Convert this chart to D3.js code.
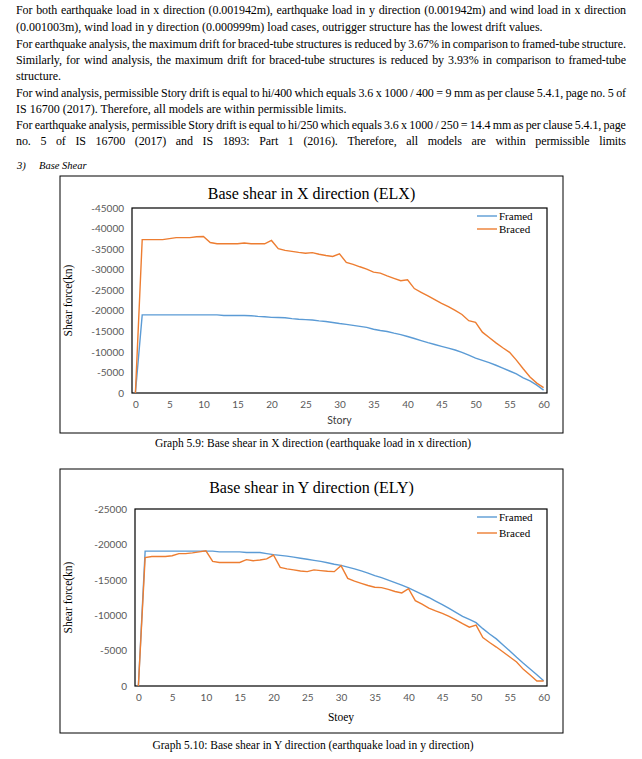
<!DOCTYPE html>
<html>
<head>
<meta charset="utf-8">
<script src="https://cdn.jsdelivr.net/npm/d3@7"></script>
<style>
  body { margin: 0; background: #fff; }
  #page { position: relative; width: 642px; height: 759px; font-family: "Liberation Serif", "Times New Roman", serif; color: #000; }
  .ln { position: absolute; left: 16px; width: 610px; font-size: 12px; line-height: 14px; white-space: nowrap; }
  .ln.just { display: flex; justify-content: space-between; letter-spacing: -0.1px; }
  svg { position: absolute; left: 0; top: 0; }
</style>
</head>
<body>
<div id="page"></div>
<script>
// story numbers (categories)
const stories = d3.range(0, 61);

// ELX base shear (kN), framed-tube and braced-tube
const elxFramed = [0,
  -19000, -19000, -19000, -19000, -19000, -19000, -19000, -19000, -19000, -19000,
  -19000, -19000, -18850, -18850, -18850, -18850, -18800, -18650, -18550, -18400,
  -18350, -18300, -18100, -17950, -17850, -17750, -17550, -17400, -17150, -16900,
  -16700, -16450, -16200, -15950, -15500, -15200, -14950, -14550, -14200, -13750,
  -13250, -12750, -12250, -11800, -11350, -10900, -10450, -9900, -9200, -8500,
  -7950, -7400, -6750, -6050, -5350, -4650, -3700, -2950, -1900, -700];
const elxBraced = [0,
  -37300, -37300, -37300, -37300, -37550, -37800, -37800, -37800, -38000, -38050,
  -36600, -36300, -36300, -36300, -36300, -36500, -36300, -36300, -36300, -37100,
  -35100, -34700, -34450, -34200, -34000, -34150, -33750, -33450, -33200, -33850,
  -31750, -31300, -30700, -30150, -29400, -29150, -28500, -27900, -27300, -27550,
  -25400, -24500, -23600, -22700, -21800, -21000, -20100, -19100, -17600, -17200,
  -14800, -13500, -12200, -11000, -9900, -8000, -5900, -3900, -2400, -1300];

// ELY base shear (kN)
const elyFramed = [0,
  -19050, -19050, -19050, -19050, -19050, -19050, -19050, -19050, -19050, -19050,
  -19050, -18950, -18950, -18950, -18950, -18850, -18850, -18850, -18700, -18550,
  -18450, -18350, -18200, -18050, -17900, -17750, -17600, -17400, -17200, -17030,
  -16800, -16550, -16250, -15950, -15600, -15300, -14950, -14600, -14250, -13850,
  -13400, -12950, -12500, -12000, -11500, -10950, -10400, -9850, -9400, -8950,
  -8100, -7350, -6650, -5800, -4950, -4050, -3200, -2400, -1600, -750];
const elyBraced = [0,
  -18150, -18300, -18300, -18300, -18400, -18700, -18700, -18800, -18950, -19100,
  -17600, -17450, -17450, -17450, -17450, -17850, -17700, -17800, -17950, -18500,
  -16750, -16550, -16400, -16250, -16150, -16400, -16300, -16200, -16150, -17000,
  -15200, -14800, -14500, -14200, -13950, -13900, -13650, -13350, -13150, -13750,
  -12050, -11550, -11000, -10600, -10250, -9850, -9350, -8800, -8300, -8600,
  -6850, -6150, -5500, -4800, -4100, -3400, -2350, -1550, -700, -700];

const elxTicks = [0, -5000, -10000, -15000, -20000, -25000, -30000, -35000, -40000, -45000];
const elyTicks = [0, -5000, -10000, -15000, -20000, -25000];
const xTicks = [0, 5, 10, 15, 20, 25, 30, 35, 40, 45, 50, 55, 60];
const seriesNames = ["Framed", "Braced"];
const seriesColors = ["#5b9bd5", "#ed7d31"];

// body text lines of the page
const textLines = [
  ["For both earthquake load in x direction (0.001942m), earthquake load in y direction (0.001942m) and wind load in x direction", true, 10],
  ["(0.001003m), wind load in y direction (0.000999m) load cases, outrigger structure has the lowest drift values.", false, 27],
  ["For earthquake analysis, the maximum drift for braced-tube structures is reduced by 3.67% in comparison to framed-tube structure.", true, 44],
  ["Similarly, for wind analysis, the maximum drift for braced-tube structures is reduced by 3.93% in comparison to framed-tube", true, 60],
  ["structure.", false, 76],
  ["For wind analysis, permissible Story drift is equal to hi/400 which equals 3.6 x 1000 / 400 = 9 mm as per clause 5.4.1, page no. 5 of", true, 93],
  ["IS 16700 (2017). Therefore, all models are within permissible limits.", false, 109],
  ["For earthquake analysis, permissible Story drift is equal to hi/250 which equals 3.6 x 1000 / 250 = 14.4 mm as per clause 5.4.1, page", true, 125],
  ["no. 5 of IS 16700 (2017) and IS 1893: Part 1 (2016). Therefore, all models are within permissible limits", true, 141]
];

let page = d3.select("#page");
textLines.forEach(function(l) {
  let div = page.append("div")
    .attr("class", l[1] ? "ln just" : "ln")
    .style("top", (l[2] - 7) + "px");
  if (l[1]) {
    l[0].split(" ").forEach(w => div.append("span").text(w));
  } else {
    div.text(l[0]);
  }
});

let svg = page.append("svg").attr("width", 642).attr("height", 759);
const serif = "'Liberation Serif', 'Times New Roman', serif";
const sans = "Lato, 'Open Sans', sans-serif";

// section heading
svg.append("text").attr("x", 17).attr("y", 169)
  .style("font-family", serif).style("font-style", "italic").style("font-size", "10.5px")
  .text("3)");
svg.append("text").attr("x", 39).attr("y", 169)
  .style("font-family", serif).style("font-style", "italic").style("font-size", "10.5px")
  .text("Base Shear");

function drawChart(cfg) {
  let g = svg.append("g");
  g.append("rect")
    .attr("x", cfg.box[0]).attr("y", cfg.box[1])
    .attr("width", cfg.box[2]).attr("height", cfg.box[3])
    .attr("fill", "#fff").attr("stroke", "#000").attr("stroke-width", 1);

  let x = d3.scalePoint().domain(stories).range([cfg.plot.l, cfg.plot.r]).padding(0.5);
  let y = d3.scaleLinear().domain([0, cfg.yMin]).range([cfg.plot.b, cfg.plot.t]);

  // y tick labels
  g.append("g")
    .attr("transform", `translate(${cfg.plot.l},0)`)
    .call(d3.axisLeft(y).tickValues(cfg.yTicks).tickSize(0).tickPadding(8).tickFormat(d => String(d)))
    .call(a => a.select(".domain").remove())
    .selectAll("text")
    .style("font-family", sans).style("font-size", "10px").attr("fill", "#595959");

  // x tick labels
  g.append("g")
    .attr("transform", `translate(0,${cfg.plot.b})`)
    .call(d3.axisBottom(x).tickValues(xTicks).tickSize(0).tickPadding(8))
    .call(a => a.select(".domain").remove())
    .selectAll("text")
    .style("font-family", sans).style("font-size", "10px").attr("fill", "#595959");

  // plot area frame
  g.append("rect")
    .attr("x", cfg.plot.l).attr("y", cfg.plot.t)
    .attr("width", cfg.plot.r - cfg.plot.l).attr("height", cfg.plot.b - cfg.plot.t)
    .attr("fill", "none").attr("stroke", "#000").attr("stroke-width", 1.2);

  let line = d3.line().x((d, i) => x(stories[i])).y(d => y(d));
  cfg.series.forEach(function(s, i) {
    g.append("path").datum(s)
      .attr("fill", "none").attr("stroke", seriesColors[i]).attr("stroke-width", 1.4)
      .attr("d", line);
  });

  // legend
  seriesNames.forEach(function(n, i) {
    let ly = cfg.plot.t + cfg.legendY[i];
    g.append("line").attr("x1", 477).attr("x2", 497).attr("y1", ly).attr("y2", ly)
      .attr("stroke", seriesColors[i]).attr("stroke-width", 1.4);
    g.append("text").attr("x", 499).attr("y", ly + 3.5)
      .style("font-family", serif).style("font-size", "11px").text(n);
  });

  // title
  g.append("text").attr("x", cfg.box[0] + cfg.box[2] / 2).attr("y", cfg.titleY)
    .attr("text-anchor", "middle")
    .style("font-family", serif).style("font-size", "16px").text(cfg.title);

  // axis titles
  g.append("text")
    .attr("transform", `translate(72,${(cfg.plot.t + cfg.plot.b) / 2}) rotate(-90)`)
    .attr("text-anchor", "middle")
    .style("font-family", serif).style("font-size", "11.5px").text("Shear force(kn)");
  g.append("text").attr("x", (cfg.plot.l + cfg.plot.r) / 2).attr("y", cfg.xLabelY)
    .attr("text-anchor", "middle")
    .style("font-family", cfg.xLabelFont).style("font-size", cfg.xLabelSize)
    .attr("fill", cfg.xLabelColor).text(cfg.xLabel);

  // caption
  svg.append("text").attr("x", 313).attr("y", cfg.captionY)
    .attr("text-anchor", "middle")
    .style("font-family", serif).style("font-size", "11.5px").text(cfg.caption);
}

drawChart({
  box: [60, 176, 503, 257],
  plot: { l: 132, r: 547, t: 208, b: 393 },
  yMin: -45000, yTicks: elxTicks,
  series: [elxFramed, elxBraced],
  legendY: [8, 21],
  title: "Base shear in X direction (ELX)", titleY: 199,
  xLabel: "Story", xLabelY: 424, xLabelFont: sans, xLabelSize: "10.5px", xLabelColor: "#404040",
  caption: "Graph 5.9: Base shear in X direction (earthquake load in x direction)", captionY: 447
});

drawChart({
  box: [60, 469, 503, 264],
  plot: { l: 135, r: 547, t: 509, b: 686 },
  yMin: -25000, yTicks: elyTicks,
  series: [elyFramed, elyBraced],
  legendY: [8, 24],
  title: "Base shear in Y direction (ELY)", titleY: 493,
  xLabel: "Stoey", xLabelY: 721, xLabelFont: serif, xLabelSize: "11.5px", xLabelColor: "#000",
  caption: "Graph 5.10: Base shear in Y direction (earthquake load in y direction)", captionY: 749
});
</script>
</body>
</html>
